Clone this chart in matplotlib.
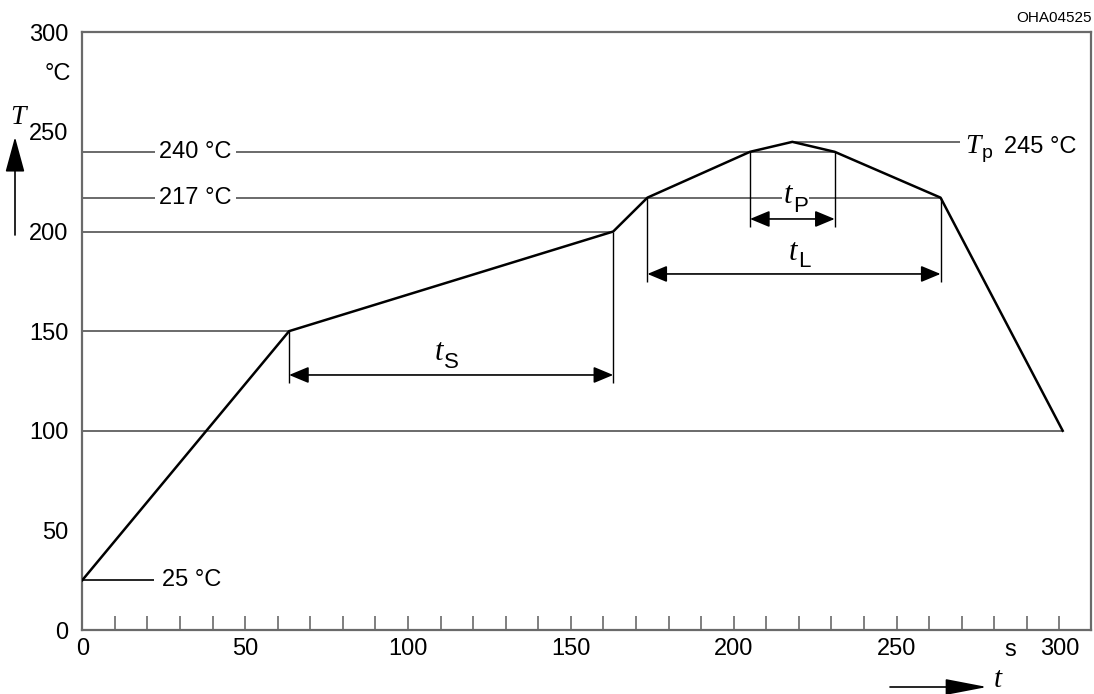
import numpy as np
import matplotlib.pyplot as plt

plt.rcParams['font.family'] = ['Liberation Sans', 'DejaVu Sans']

# reflow profile (time in s, temperature in degC)
time = [0, 63.5, 163, 173.5, 205, 218, 231, 263.5, 301]
temp = [25, 150, 200, 217, 240, 245, 240, 217, 100]

x_ticks = [0, 50, 100, 150, 200, 250, 300]
y_ticks = [0, 50, 100, 150, 200, 250, 300]

# dimension arrows: (sub, start idx, end idx, arrow level, label x, label baseline, sub drop px)
dims = [('S', 1, 2, 128, 110.7, 135.5, 8),
        ('L', 3, 7, 178.7, 219.4, 185.7, 7),
        ('P', 4, 6, 206.3, 217.9, 214.4, 9)]

grey = '#6a6a6a'
fs = 17
serif_it = dict(family=['Liberation Serif', 'DejaVu Serif'], style='italic')

fig = plt.figure(figsize=(10.94, 6.94), dpi=100)
ax = fig.add_axes([0.0752, 0.0922, 0.9221, 0.8613])
ax.set_xlim(0, 309.7)
ax.set_ylim(0, 300)

for s in ax.spines.values():
    s.set_color(grey)
    s.set_linewidth(1.6)

ax.set_xticks(x_ticks)
ax.set_xticklabels([str(v) for v in x_ticks], fontsize=fs)
ax.set_xticks(np.arange(10, 310, 10), minor=True)
ax.tick_params(axis='x', which='both', direction='in', length=10, width=1.2,
               color=grey, pad=6)
ax.set_yticks(y_ticks)
ax.set_yticklabels([str(v) for v in y_ticks], fontsize=fs)
ax.set_yticks([50, 250], minor=True)
ax.tick_params(axis='y', which='major', length=0, pad=10)
ax.tick_params(axis='y', which='minor', direction='in', length=10, width=1.2,
               color=grey)

# horizontal reference lines
ax.hlines([temp[1], temp[2], temp[8]], 0, [time[1], time[2], time[8]],
          color=grey, lw=1.4, zorder=1)
ax.hlines([temp[4], temp[3]], 0, [time[6], time[7]], color=grey, lw=1.4, zorder=1)
ax.hlines(temp[0], 0, 22, color='black', lw=1.2, zorder=1)
ax.hlines(temp[5], time[5], 269.5, color=grey, lw=1.4, zorder=1)

# profile
ax.plot(time, temp, color='black', lw=1.8, zorder=3)

bb = dict(facecolor='white', edgecolor='none', pad=3)
ax.text(34.7, temp[4], '240 °C', fontsize=fs, ha='center', va='center', bbox=bb, zorder=4)
ax.text(34.7, temp[3], '217 °C', fontsize=fs, ha='center', va='center', bbox=bb, zorder=4)
ax.text(24.5, temp[0], '25 °C', fontsize=fs, ha='left', va='center', zorder=4)

# T_p 245 °C
ax.text(271.2, 239.5, 'T', fontsize=20, ha='left', va='baseline', zorder=4, **serif_it)
ax.annotate('p', (271.2, 239.5), xytext=(16, -5), textcoords='offset pixels',
            fontsize=14, ha='left', va='baseline', zorder=4)
ax.text(283.0, 239.5, '245 °C', fontsize=fs, ha='left', va='baseline', zorder=4)

wb = dict(facecolor='white', edgecolor='none', pad=1)
for sub, i0, i1, ly, tx, ty, drop in dims:
    ax.vlines([time[i0], time[i1]], ly - 4, [temp[i0], temp[i1]],
              color='black', lw=1.0, zorder=2)
    ax.annotate('', xy=(time[i1], ly), xytext=(time[i0], ly),
                arrowprops=dict(arrowstyle='<|-|>,head_length=0.6,head_width=0.25',
                                mutation_scale=20, shrinkA=0, shrinkB=0,
                                lw=1.2, color='black'), zorder=4)
    ax.text(tx, ty, 't', fontsize=22, ha='right', va='baseline', bbox=wb,
            zorder=4, **serif_it)
    ax.annotate(sub, (tx, ty), xytext=(1, -drop), textcoords='offset pixels',
                fontsize=16, ha='left', va='baseline', bbox=wb, zorder=4)

# units and axis symbols
ax.text(-0.011, 279, '°C', fontsize=fs, ha='right', va='center',
        transform=ax.get_yaxis_transform())
ax.text(284.8, -0.043, 's', fontsize=fs, ha='center', va='baseline',
        transform=ax.get_xaxis_transform())

ax.annotate('', xy=(15, 557), xytext=(15, 459), xycoords='figure pixels',
            arrowprops=dict(arrowstyle='-|>,head_length=1.1,head_width=0.3',
                            mutation_scale=20, shrinkA=0, shrinkB=0,
                            lw=1.2, color='black'))
fig.text(18, 577, 'T', fontsize=20, ha='center', va='center',
         transform=None, **serif_it)
ax.annotate('', xy=(987, 7), xytext=(890, 7), xycoords='figure pixels',
            arrowprops=dict(arrowstyle='-|>,head_length=1.3,head_width=0.25',
                            mutation_scale=20, shrinkA=0, shrinkB=0,
                            lw=1.2, color='black'))
fig.text(998, 1, 't', fontsize=21, ha='center', va='bottom',
         transform=None, **serif_it)

fig.text(1092, 676, 'OHA04525', fontsize=11, ha='right', va='center',
         transform=None)

fig.savefig('out.png', dpi=100)
